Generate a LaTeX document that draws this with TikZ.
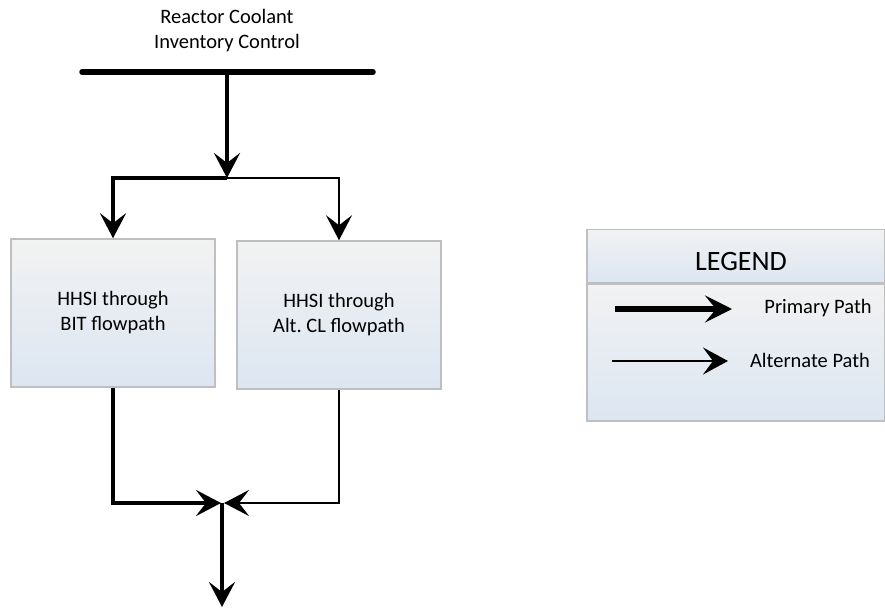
\documentclass[tikz,border=0pt]{standalone}
\usepackage{fontspec}
\setmainfont{Carlito}
\usetikzlibrary{arrows.meta}
\definecolor{boxtop}{HTML}{F2F2F2}
\definecolor{boxbot}{HTML}{DCE6F2}
\definecolor{boxline}{HTML}{BFBFBF}
\begin{document}
\frenchspacing
\begin{tikzpicture}[x=1pt,y=-1pt,
  thickpath/.style={line width=4.5pt},
  thinpath/.style={line width=2pt},
  headA/.style={-{Stealth[length=25pt,width=26pt,inset=10pt]}},
  shaded/.style={draw=boxline,line width=1.5pt,top color=boxtop,bottom color=boxbot,inner sep=0pt},
  flowbox/.style={shaded,minimum width=204pt,minimum height=148pt,align=center,font=\fontsize{20.5}{25}\selectfont},
  lbl/.style={font=\fontsize{20.5}{25}\selectfont,align=center,inner sep=0pt}]
\useasboundingbox (0,0) rectangle (885,607);
% title and bar
\node[lbl] (title) at (227,31) {Reactor Coolant\\Inventory Control};
\coordinate (barL) at (82,72);
\coordinate (barR) at (373,72);
\draw[line width=5.5pt,line cap=round] (barL) -- (barR);
% boxes
\node[flowbox] (b1) at (113,313) {HHSI through\\BIT flowpath};
\node[flowbox] (b2) at (339,315) {HHSI through\\Alt.\ CL flowpath};
% top connectors
\coordinate (barM) at (227,74);
\coordinate (split) at (227,178);
\coordinate (splitL) at (113,178);
\coordinate (splitR) at (339,178);
\draw[thinpath,headA] (split) -- (splitR) -- (b2.north);
\draw[thickpath,headA] (split) -- (splitL) -- (b1.north);
\draw[thickpath,headA] (barM) -- (split);
% bottom connectors
\coordinate (mergeL) at (113,503);
\coordinate (mergeR) at (339,503);
\coordinate (tipL) at (221,503);
\coordinate (tipR) at (224,503);
\coordinate (merge) at (222,503);
\coordinate (outlet) at (222,607);
\draw[thickpath,headA] (b1.south) -- (mergeL) -- (tipL);
\draw[thinpath,headA] (b2.south) -- (mergeR) -- (tipR);
\draw[thickpath,headA] (merge) -- (outlet);
% legend
\node[shaded,minimum width=298pt,minimum height=137pt,anchor=north west] (legbody) at (586,283) {};
\node[shaded,minimum width=298pt,minimum height=53pt,anchor=south west] (leghead) at (586,283) {};
\node[font=\fontsize{28}{32}\selectfont,inner sep=0pt] (legtitle) at (741,262) {LEGEND};
\coordinate (p1) at (615,309);
\coordinate (p2) at (732,309);
\coordinate (a1) at (612,361);
\coordinate (a2) at (728,361);
\draw[line width=6pt,-{Stealth[length=27pt,width=27pt,inset=11pt]}] (p1) -- (p2);
\draw[line width=2.5pt,-{Stealth[length=25pt,width=27pt,inset=10pt]}] (a1) -- (a2);
\node[lbl] (plbl) at (818,308) {Primary Path};
\node[lbl] (albl) at (810,360) {Alternate Path};
\end{tikzpicture}
\end{document}
